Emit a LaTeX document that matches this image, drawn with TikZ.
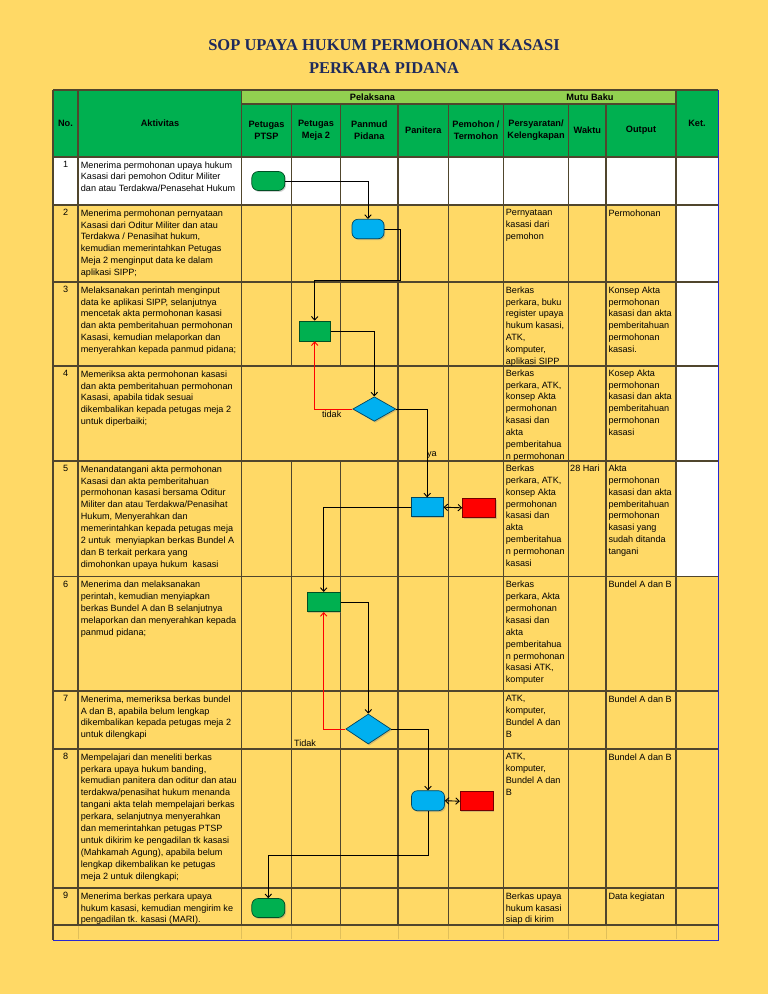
\documentclass[tikz,border=0pt]{standalone}
\usepackage{fontspec}
\setmainfont{Liberation Sans}
\newfontfamily\titlefont{Liberation Serif}
\usetikzlibrary{positioning, arrows.meta, shapes.geometric, shadows}
\definecolor{sopyellow}{RGB}{255,217,102}
\definecolor{hdrgreen}{RGB}{0,176,80}
\definecolor{hdrlight}{RGB}{146,208,80}
\definecolor{gridline}{RGB}{80,70,45}
\definecolor{boxgreen}{RGB}{0,176,80}
\definecolor{boxblue}{RGB}{0,176,240}
\definecolor{boxred}{RGB}{255,0,0}
\definecolor{titlenavy}{RGB}{30,42,92}
\definecolor{edgeblue}{RGB}{40,40,210}

\begin{document}
\begin{tikzpicture}[x=1pt, y=-1pt, >={Straight Barb[length=3.5pt,width=6.5pt]},
    grid/.style={draw=gridline, line width=1.1pt},
    faint/.style={draw=sopyellow!88!black, line width=0.6pt},
    cell/.style={anchor=north west, inner sep=0pt, align=left, font=\fontsize{9.1}{11.9}\selectfont},
    num/.style={anchor=north, inner sep=0pt, font=\fontsize{9.1}{11.9}\selectfont},
    hdr/.style={inner sep=0pt, align=center, font=\bfseries\fontsize{9.2}{12}\selectfont},
    titletext/.style={inner sep=0pt, text=titlenavy, font=\titlefont\bfseries\fontsize{16.5}{20}\selectfont},
    shadowed/.style={drop shadow={shadow xshift=1.2pt, shadow yshift=-1.4pt, opacity=0.35}},
    term/.style={shadowed, draw=boxgreen!45!black, fill=boxgreen, rounded corners=6.5pt, minimum width=33pt, minimum height=19pt, inner sep=0pt, line width=0.7pt},
    greenbox/.style={shadowed, draw=boxgreen!45!black, fill=boxgreen, minimum width=32pt, minimum height=19.5pt, inner sep=0pt, line width=0.7pt},
    bluebox/.style={shadowed, draw=boxblue!40!black, fill=boxblue, minimum width=32pt, minimum height=19pt, inner sep=0pt, line width=0.7pt},
    blueround/.style={bluebox, rounded corners=6pt, minimum width=33pt, minimum height=20pt},
    redbox/.style={shadowed, draw=boxred!45!black, fill=boxred, minimum width=33pt, minimum height=19pt, inner sep=0pt, line width=0.7pt},
    decide/.style={shadowed, diamond, draw=boxblue!40!black, fill=boxblue, inner sep=0pt, line width=0.7pt},
    flow/.style={->, line width=0.9pt},
    back/.style={->, draw=red, line width=0.9pt},
    twoway/.style={<->, line width=0.9pt},
    lbl/.style={inner sep=0pt, font=\fontsize{9.1}{11}\selectfont}]

    % Background and title
    \useasboundingbox (0,0) rectangle (768,994);
    \fill[sopyellow] (0,0) rectangle (768,994);
    \node (title1) [titletext] at (384,44.7) {SOP UPAYA HUKUM PERMOHONAN KASASI};
    \node (title2) [titletext] at (384,68) {PERKARA PIDANA};

    % Table fills
    \fill[hdrgreen] (53,90) rectangle (718,157);
    \fill[hdrlight] (241.5,90) rectangle (676,104);
    \fill[white] (53,157) rectangle (718,205);
    \fill[white] (676,157) rectangle (718,576.5);

    % Table lines
    \draw[grid] (53,90) -- (718,90);
    \draw[grid] (241.5,104) -- (676,104);
    \foreach \y in {157,205,282,366,461,576.5,691,749,888,925}
        \draw[grid] (53,\y) -- (718,\y);
    \foreach \x in {53,78,241.5,676}
        \draw[grid] (\x,90) -- (\x,925);
    \foreach \x in {398,448.5,503.5,568.5,606}
        \draw[grid] (\x,104) -- (\x,925);
    \foreach \x in {291.5,340.5} {
        \draw[grid] (\x,104) -- (\x,366);
        \draw[grid] (\x,461) -- (\x,925);
    }
    \foreach \x in {78,241.5,291.5,340.5,398,448.5,503.5,568.5,606,676}
        \draw[faint] (\x,925.6) -- (\x,939.4);
    \draw[grid] (53,925) -- (53,940);
    \draw[edgeblue, line width=0.9pt] (718,90) -- (718,940) -- (53,940);

    % Header
    \node (hno) [hdr] at (65.5,123.5) {No.};
    \node (hakt) [hdr] at (160,123.5) {Aktivitas};
    \node (hket) [hdr] at (697,123.5) {Ket.};
    \node (hpel) [hdr] at (372.5,97) {Pelaksana};
    \node (hmutu) [hdr] at (590,97) {Mutu Baku};
    \node (hptsp) [hdr] at (266.5,130.5) {Petugas\\PTSP};
    \node (hmeja) [hdr] at (316,130.5) {Petugas\\Meja 2};
    \node (hpanmud) [hdr] at (369.3,130.5) {Panmud\\Pidana};
    \node (hpanitera) [hdr] at (423.3,130.5) {Panitera};
    \node (hpemohon) [hdr] at (476,130.5) {Pemohon /\\Termohon};
    \node (hsyarat) [hdr] at (536,130.5) {Persyaratan/\\Kelengkapan};
    \node (hwaktu) [hdr] at (587.3,130.5) {Waktu};
    \node (houtput) [hdr] at (641,130.5) {Output};

    % Row numbers
    \foreach \n/\y in {1/157,2/205,3/282,4/366,5/461,6/576.5,7/691,8/749,9/888}
        \node (n\n) [num] at (65.7,\y+4.3) {\n};

    % Aktivitas
    \node (a1) [cell] at (80.7,161.3) {Menerima permohonan upaya hukum\\Kasasi dari pemohon Oditur Militer\\dan atau Terdakwa/Penasehat Hukum};
    \node (a2) [cell] at (80.7,209.3) {Menerima permohonan pernyataan\\Kasasi dari Oditur Militer dan atau\\Terdakwa / Penasihat hukum,\\kemudian memerintahkan Petugas\\Meja 2 menginput data ke dalam\\aplikasi SIPP;};
    \node (a3) [cell] at (80.7,286.3) {Melaksanakan perintah menginput\\data ke aplikasi SIPP, selanjutnya\\mencetak akta permohonan kasasi\\dan akta pemberitahuan permohonan\\Kasasi, kemudian melaporkan dan\\menyerahkan kepada panmud pidana;};
    \node (a4) [cell] at (80.7,370.3) {Memeriksa akta permohonan kasasi\\dan akta pemberitahuan permohonan\\Kasasi, apabila tidak sesuai\\dikembalikan kepada petugas meja 2\\untuk diperbaiki;};
    \node (a5) [cell] at (80.7,465.3) {Menandatangani akta permohonan\\Kasasi dan akta pemberitahuan\\permohonan kasasi bersama Oditur\\Militer dan atau Terdakwa/Penasihat\\Hukum, Menyerahkan dan\\memerintahkan kepada petugas meja\\2 untuk\ \ menyiapkan berkas Bundel A\\dan B terkait perkara yang\\dimohonkan upaya hukum\ \ kasasi};
    \node (a6) [cell] at (80.7,580.8) {Menerima dan melaksanakan\\perintah, kemudian menyiapkan\\berkas Bundel A dan B selanjutnya\\melaporkan dan menyerahkan kepada\\panmud pidana;};
    \node (a7) [cell] at (80.7,695.3) {Menerima, memeriksa berkas bundel\\A dan B, apabila belum lengkap\\dikembalikan kepada petugas meja 2\\untuk dilengkapi};
    \node (a8) [cell] at (80.7,753.3) {Mempelajari dan meneliti berkas\\perkara upaya hukum banding,\\kemudian panitera dan oditur dan atau\\terdakwa/penasihat hukum menanda\\tangani akta telah mempelajari berkas\\perkara, selanjutnya menyerahkan\\dan memerintahkan petugas PTSP\\untuk dikirim ke pengadilan tk kasasi\\(Mahkamah Agung), apabila belum\\lengkap dikembalikan ke petugas\\meja 2 untuk dilengkapi;};
    \node (a9) [cell] at (80.7,892.3) {Menerima berkas perkara upaya\\hukum kasasi, kemudian mengirim ke\\pengadilan tk. kasasi (MARI).};

    % Persyaratan, waktu, output
    \node (s2) [cell] at (505.7,209.3) {Pernyataan\\kasasi dari\\pemohon};
    \node (s3) [cell] at (505.7,286.3) {Berkas\\perkara, buku\\register upaya\\hukum kasasi,\\ATK,\\komputer,\\aplikasi SIPP};
    \node (s4) [cell] at (505.7,369.3) {Berkas\\perkara, ATK,\\konsep Akta\\permohonan\\kasasi dan\\akta\\pemberitahua\\n permohonan};
    \node (s5) [cell] at (505.7,464.5) {Berkas\\perkara, ATK,\\konsep Akta\\permohonan\\kasasi dan\\akta\\pemberitahua\\n permohonan\\kasasi};
    \node (s6) [cell] at (505.7,580.8) {Berkas\\perkara, Akta\\permohonan\\kasasi dan\\akta\\pemberitahua\\n permohonan\\kasasi ATK,\\komputer};
    \node (s7) [cell] at (505.7,695.3) {ATK,\\komputer,\\Bundel A dan\\B};
    \node (s8) [cell] at (505.7,753.3) {ATK,\\komputer,\\Bundel A dan\\B};
    \node (s9) [cell] at (505.7,892.3) {Berkas upaya\\hukum kasasi\\siap di kirim};
    \node (w5) [cell] at (570,464.5) {28 Hari};
    \node (o2) [cell] at (608.3,209.3) {Permohonan};
    \node (o3) [cell] at (608.3,286.3) {Konsep Akta\\permohonan\\kasasi dan akta\\pemberitahuan\\permohonan\\kasasi.};
    \node (o4) [cell] at (608.3,369.3) {Kosep Akta\\permohonan\\kasasi dan akta\\pemberitahuan\\permohonan\\kasasi};
    \node (o5) [cell] at (608.3,464.5) {Akta\\permohonan\\kasasi dan akta\\pemberitahuan\\permohonan\\kasasi yang\\sudah ditanda\\tangani};
    \node (o6) [cell] at (608.3,580.8) {Bundel A dan B};
    \node (o7) [cell] at (608.3,695.3) {Bundel A dan B};
    \node (o8) [cell] at (608.3,753.3) {Bundel A dan B};
    \node (o9) [cell] at (608.3,892.3) {Data kegiatan};

    % Flow shapes
    \node (t1) [term] at (268.3,181) {};
    \node (p2) [blueround, minimum width=32pt, minimum height=19.5pt] at (368,229) {};
    \node (b3) [greenbox, minimum width=31pt, minimum height=20pt] at (314.7,331) {};
    \node (d4) [decide, minimum width=43pt, minimum height=24.5pt] at (374.3,409) {};
    \node (p5) [bluebox] at (427.2,507.2) {};
    \node (r5) [redbox] at (479,507.8) {};
    \node (b6) [greenbox, minimum width=33pt] at (323.7,602) {};
    \node (d7) [decide, minimum width=45pt, minimum height=30pt] at (368.3,729) {};
    \node (p8) [blueround] at (428,800.7) {};
    \node (r8) [redbox] at (476.7,801.2) {};
    \node (t9) [term] at (268.3,908) {};
    \coordinate (k2) at (400.7,280.7);
    \coordinate (k8) at (268.3,855);

    % Labels
    \node (ltidak4) [lbl] at (331.7,414.3) {tidak};
    \node (lya4) [lbl] at (432,455) {ya};
    \node (ltidak7) [lbl] at (305,743) {Tidak};

    % Arrows
    \draw[flow] (t1.east) -| (p2.north);
    \draw[flow] (p2.east) -| (k2) -| (b3.north);
    \draw[flow] (b3.east) -| (d4.north);
    \draw[back] (d4.west) -| (b3.south);
    \draw[flow] (d4.east) -| (p5.north);
    \draw[twoway] (p5.east) -- (r5.west);
    \draw[flow] (p5.west) -| (b6.north);
    \draw[flow] (b6.east) -| (d7.north);
    \draw[back] (d7.west) -| (b6.south);
    \draw[flow] (d7.east) -| (p8.north);
    \draw[twoway] (p8.east) -- (r8.west);
    \draw[flow] (p8.south) |- (k8) -- (t9.north);
\end{tikzpicture}
\end{document}
